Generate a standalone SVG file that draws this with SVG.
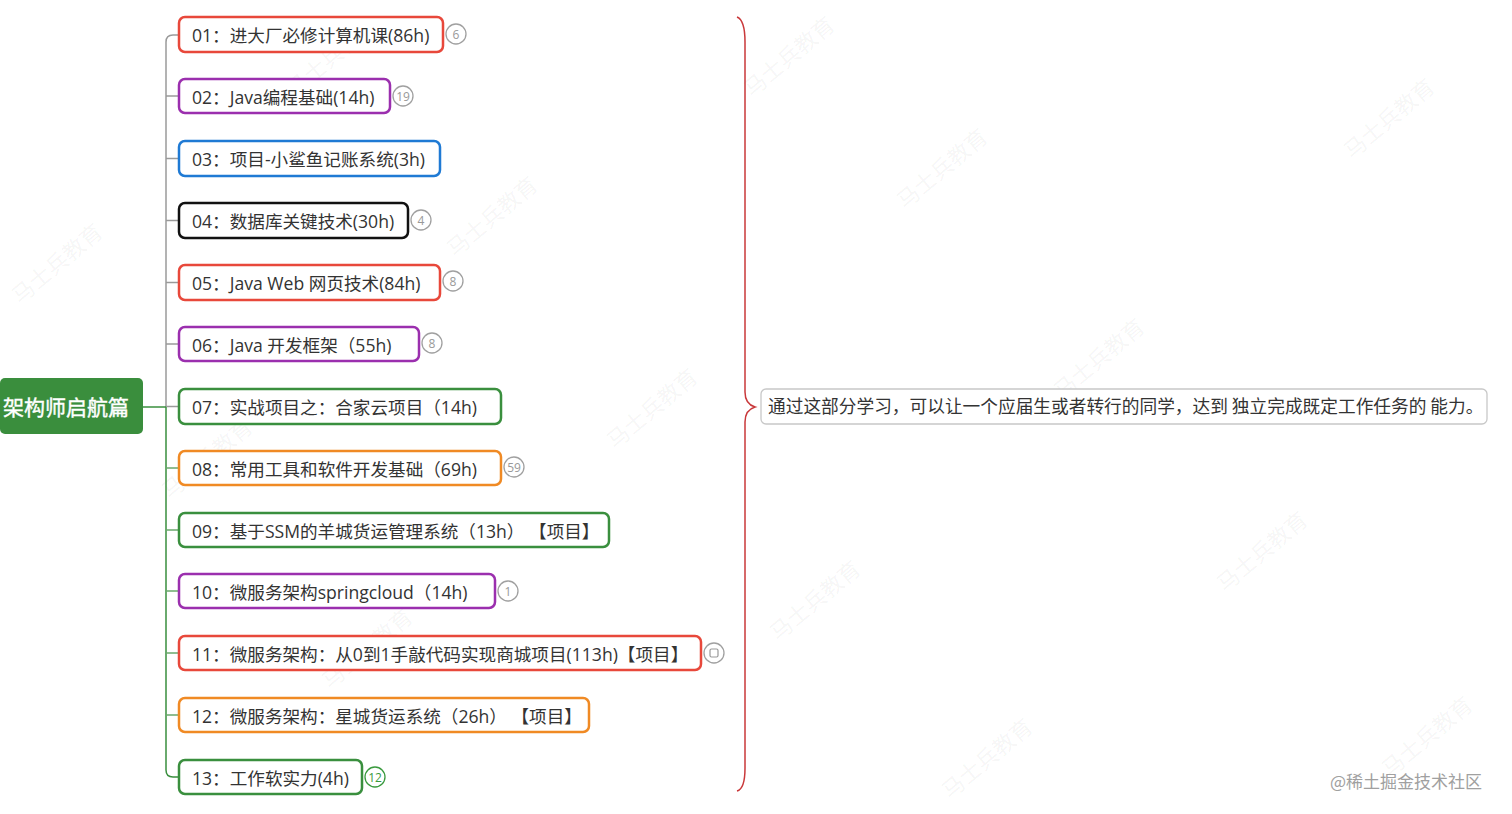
<svg xmlns="http://www.w3.org/2000/svg" width="1512" height="814" viewBox="0 0 1512 814">
<style>
.n{fill:#fff;stroke-width:2.5}
.t{font-family:"Open Sans","Noto Sans CJK SC",sans-serif;font-size:17.6px;fill:#333}
.b{fill:#fff;stroke:#a0a0a0;stroke-width:1.3}
.bt{font-family:"Open Sans","Noto Sans CJK SC",sans-serif;font-size:12px;fill:#999;text-anchor:middle}
.red{stroke:#e8483b}.pur{stroke:#9b2fae}.blu{stroke:#1f7ad4}.blk{stroke:#111}.grn{stroke:#3a8f3e}.org{stroke:#f08a24}
.wm{font-family:"Noto Sans CJK SC",sans-serif;font-size:22px;fill:#000;fill-opacity:0.05}
</style>
<rect width="1512" height="814" fill="#fff"/>
<g id="watermarks">
<text class="wm" transform="translate(20,305) rotate(-40)">马士兵教育</text>
<text class="wm" transform="translate(455,258) rotate(-40)">马士兵教育</text>
<text class="wm" transform="translate(905,210) rotate(-40)">马士兵教育</text>
<text class="wm" transform="translate(1352,160) rotate(-40)">马士兵教育</text>
<text class="wm" transform="translate(615,450) rotate(-40)">马士兵教育</text>
<text class="wm" transform="translate(1062,400) rotate(-40)">马士兵教育</text>
<text class="wm" transform="translate(778,642) rotate(-40)">马士兵教育</text>
<text class="wm" transform="translate(1225,593) rotate(-40)">马士兵教育</text>
<text class="wm" transform="translate(950,800) rotate(-40)">马士兵教育</text>
<text class="wm" transform="translate(1390,778) rotate(-40)">马士兵教育</text>
<text class="wm" transform="translate(295,98) rotate(-40)">马士兵教育</text>
<text class="wm" transform="translate(330,690) rotate(-40)">马士兵教育</text>
<text class="wm" transform="translate(170,500) rotate(-40)">马士兵教育</text>
<text class="wm" transform="translate(752,98) rotate(-40)">马士兵教育</text>
</g>
<g id="connectors" fill="none" stroke-width="1.5">
<path d="M166,407 V42 Q166,35 173,35 H179" stroke="#9a9a9a"/>
<path d="M166,96 H179 M166,158.5 H179 M166,220.5 H179 M166,282.5 H179 M166,344 H179 M166,406.5 H179" stroke="#9a9a9a"/>
<path d="M166,407 V770 Q166,777 173,777 H179" stroke="#3a8f3e"/>
<path d="M143,407 H166" stroke="#3a8f3e"/>
<path d="M166,468 H179 M166,530 H179 M166,591 H179 M166,653 H179 M166,715 H179" stroke="#6aa86c"/>
<path d="M737,17 Q745,20 745,42 V392 Q745,404 755,407 Q745,410 745,422 V768 Q745,789 737,791" stroke="#c9383a"/>
</g>
<g id="root">
<rect x="0" y="378" width="143" height="56" rx="5" fill="#3a8e3d"/>
<text x="66" y="415" text-anchor="middle" font-family="Noto Sans CJK SC,sans-serif" font-size="21" fill="#fff" stroke="#fff" stroke-width="0.4">架构师启航篇</text>
</g>
<g id="n01"><rect class="n red" x="179" y="17" width="264" height="35" rx="6"/><text class="t" x="192" y="42">01：进大厂必修计算机课(86h)</text>
<circle class="b" cx="456" cy="34" r="10"/><text class="bt" x="456" y="38.5">6</text></g>
<g id="n02"><rect class="n pur" x="179" y="79" width="211" height="34" rx="6"/><text class="t" x="192" y="104">02：Java编程基础(14h)</text>
<circle class="b" cx="403" cy="96" r="10"/><text class="bt" x="403" y="100.5">19</text></g>
<g id="n03"><rect class="n blu" x="179" y="141" width="261" height="35" rx="6"/><text class="t" x="192" y="166">03：项目-小鲨鱼记账系统(3h)</text></g>
<g id="n04"><rect class="n blk" x="179" y="203" width="229" height="35" rx="6"/><text class="t" x="192" y="228">04：数据库关键技术(30h)</text>
<circle class="b" cx="421" cy="220" r="10"/><text class="bt" x="421" y="224.5">4</text></g>
<g id="n05"><rect class="n red" x="179" y="265" width="261" height="35" rx="6"/><text class="t" x="192" y="290">05：Java Web 网页技术(84h)</text>
<circle class="b" cx="453" cy="281" r="10"/><text class="bt" x="453" y="285.5">8</text></g>
<g id="n06"><rect class="n pur" x="179" y="327" width="240" height="34" rx="6"/><text class="t" x="192" y="352">06：Java 开发框架（55h)</text>
<circle class="b" cx="432" cy="343" r="10"/><text class="bt" x="432" y="347.5">8</text></g>
<g id="n07"><rect class="n grn" x="179" y="389" width="322" height="35" rx="6"/><text class="t" x="192" y="414">07：实战项目之：合家云项目（14h)</text></g>
<g id="n08"><rect class="n org" x="179" y="451" width="322" height="34" rx="6"/><text class="t" x="192" y="476">08：常用工具和软件开发基础（69h)</text>
<circle class="b" cx="514" cy="467" r="10"/><text class="bt" x="514" y="471.5">59</text></g>
<g id="n09"><rect class="n grn" x="179" y="513" width="430" height="34" rx="6"/><text class="t" x="192" y="538">09：基于SSM的羊城货运管理系统（13h） 【项目】</text></g>
<g id="n10"><rect class="n pur" x="179" y="574" width="316" height="34" rx="6"/><text class="t" x="192" y="599">10：微服务架构springcloud（14h)</text>
<circle class="b" cx="508" cy="591" r="10"/><text class="bt" x="508" y="595.5">1</text></g>
<g id="n11"><rect class="n red" x="179" y="636" width="522" height="34" rx="6"/><text class="t" x="192" y="661">11：微服务架构：从0到1手敲代码实现商城项目(113h)【项目】</text>
<circle class="b" cx="714" cy="653" r="10"/><rect x="710" y="649" width="8" height="8" rx="1.5" fill="none" stroke="#999" stroke-width="1.2"/></g>
<g id="n12"><rect class="n org" x="179" y="698" width="410" height="34" rx="6"/><text class="t" x="192" y="723">12：微服务架构：星城货运系统（26h） 【项目】</text></g>
<g id="n13"><rect class="n grn" x="179" y="760" width="183" height="34" rx="6"/><text class="t" x="192" y="785">13：工作软实力(4h)</text>
<circle cx="375" cy="777" r="10" fill="#fff" stroke="#3a9a3e" stroke-width="1.3"/><text class="bt" x="375" y="781.5" style="fill:#3a9a3e">12</text></g>
<g id="summary">
<rect x="761" y="389" width="726" height="35" rx="5" fill="#fff" stroke="#c8c8c8" stroke-width="1.3"/>
<text x="768" y="413" font-family="Noto Sans CJK SC,sans-serif" font-size="17.7" fill="#333">通过这部分学习，可以让一个应届生或者转行的同学，达到 独立完成既定工作任务的 能力。</text>
</g>
<text x="1330" y="788" font-family="Noto Sans CJK SC,sans-serif" font-size="17" fill="#a0a0a0">@稀土掘金技术社区</text>
</svg>
